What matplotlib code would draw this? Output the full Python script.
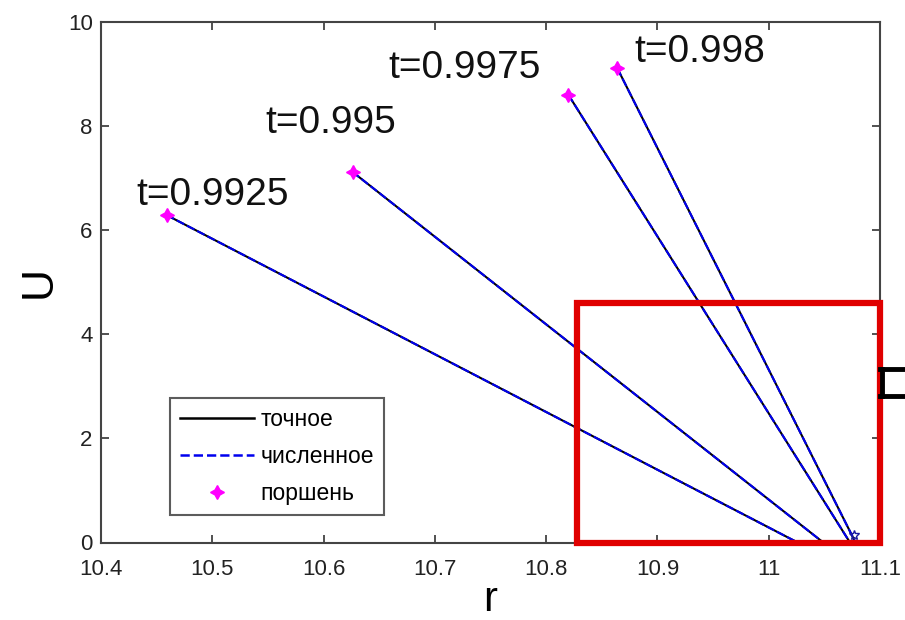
import numpy as np
import matplotlib
matplotlib.use('Agg')
import matplotlib.pyplot as plt
from matplotlib.patches import Rectangle
from matplotlib.lines import Line2D

plt.rcParams['font.family'] = ['Liberation Sans', 'DejaVu Sans']

# piston positions at given times (start of each profile)
times = ['0.9925', '0.995', '0.9975', '0.998']
piston_r = [10.459, 10.626, 10.820, 10.864]
piston_u = [6.29, 7.12, 8.60, 9.11]
# where each profile hits U = 0
front_r = [11.026, 11.049, 11.073, 11.078]
front_u = [0.0, 0.0, 0.0, 0.0]
# small marker near the converging point
conv_r = [11.077]
conv_u = [0.15]

fig = plt.figure(figsize=(9.05, 6.2), dpi=100)
ax = fig.add_axes([0.1116, 0.125, 0.8608, 0.8395])

for i in range(len(times)):
    ax.plot([piston_r[i], front_r[i]], [piston_u[i], front_u[i]],
            color='black', linestyle='-', linewidth=1.5)
    ax.plot([piston_r[i], front_r[i]], [piston_u[i], front_u[i]],
            color='#0000ee', linestyle='--', dashes=(4, 1.5), linewidth=1.5)

star = (4, 1, 0)
ax.plot(piston_r, piston_u, linestyle='none', marker=star, markersize=10,
        color='#ff00ff')
ax.plot(conv_r, conv_u, linestyle='none', marker='*', markersize=7,
        markerfacecolor='none', markeredgecolor='#1a1aa0')

# time labels (left/baseline of each label)
label_pos = [(10.432, 6.48), (10.548, 7.87), (10.658, 8.92), (10.879, 9.23)]
for t, (lx, ly) in zip(times, label_pos):
    ax.text(lx, ly, 't=' + t, fontsize=28, ha='left', va='baseline',
            color='#111111')

ax.add_patch(Rectangle((10.828, 0), 11.1 - 10.828, 4.6, fill=False,
                       edgecolor='#e00000', linewidth=4.5, clip_on=False,
                       zorder=5))

ax.set_xlim(10.4, 11.1)
ax.set_ylim(0, 10)
ax.set_xticks(np.arange(10.4, 11.11, 0.1))
ax.set_xticklabels(['10.4', '10.5', '10.6', '10.7', '10.8', '10.9', '11', '11.1'])
ax.set_yticks([0, 2, 4, 6, 8, 10])
ax.tick_params(direction='in', top=True, right=True, length=6, width=1.2,
               labelsize=16, colors='#333333', labelcolor='#222222')
ax.tick_params(axis='x', pad=12)
ax.tick_params(axis='y', pad=6)
for s in ax.spines.values():
    s.set_linewidth(1.5)
    s.set_color('#444444')

ax.set_xlabel('r', fontsize=30, labelpad=0)
ax.set_ylabel('U', fontsize=32, labelpad=6)

handles = [Line2D([], [], color='black', linewidth=1.8),
           Line2D([], [], color='#0000ee', linestyle='--', linewidth=1.8),
           Line2D([], [], linestyle='none', marker=star, markersize=10,
                  color='#ff00ff')]
leg = ax.legend(handles, ['точное', 'численное', 'поршень'],
                loc='lower left', bbox_to_anchor=(0.0886, 0.0528),
                borderaxespad=0, fontsize=16.5, fancybox=False,
                handlelength=3.2, handletextpad=0.3, labelspacing=0.6,
                borderpad=0.45)
leg.get_frame().set_edgecolor('#333333')
leg.get_frame().set_linewidth(1.5)

# cut-off bracket at right edge of the picture
fig.add_artist(Line2D([880 / 905, 1.0], [1 - 369 / 620, 1 - 369 / 620],
                      color='black', linewidth=3.5, transform=fig.transFigure))
fig.add_artist(Line2D([880 / 905, 1.0], [1 - 396 / 620, 1 - 396 / 620],
                      color='black', linewidth=3.5, transform=fig.transFigure))
fig.add_artist(Line2D([882 / 905, 882 / 905], [1 - 369 / 620, 1 - 396 / 620],
                      color='black', linewidth=3.5, transform=fig.transFigure))

fig.savefig('out.png', dpi=100)
